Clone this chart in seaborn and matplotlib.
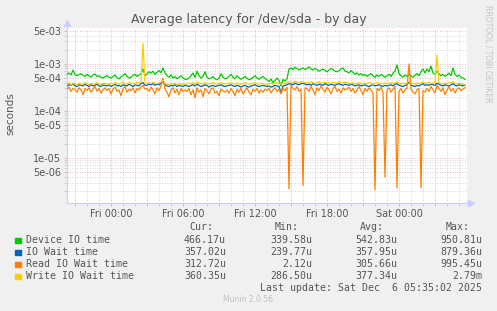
import numpy as np
import pandas as pd
import matplotlib
matplotlib.use("Agg")
import matplotlib.pyplot as plt
import matplotlib.dates as mdates
from matplotlib.patches import Rectangle
from matplotlib.ticker import FixedLocator, FixedFormatter, NullFormatter
import seaborn as sns

# ---------------- data (microseconds, one sample per 10 minutes) ----------------
start_time = "2025-12-04 20:20"
sample_step = "10min"

device_us = [
    600, 640, 580, 740, 600, 560, 590, 620, 570, 540, 600, 560, 520, 580, 610, 540, 560, 520, 500, 530,
    560, 520, 500, 540, 580, 510, 480, 530, 560, 620, 540, 500, 520, 570, 600, 540, 580, 620, 780, 560,
    620, 680, 640, 700, 600, 660, 720, 650, 820, 640, 560, 520, 580, 500, 540, 480, 520, 560, 500, 470,
    470, 500, 560, 640, 520, 700, 560, 500, 540, 680, 520, 480, 500, 540, 480, 460, 500, 620, 520, 480,
    500, 540, 600, 520, 480, 560, 510, 470, 500, 540, 490, 460, 480, 520, 560, 500, 470, 510, 540, 490,
    460, 420, 480, 400, 440, 500, 450, 340, 470, 430, 480, 780, 820, 760, 850, 800, 740, 780, 820, 760,
    800, 860, 780, 740, 800, 760, 700, 740, 780, 720, 680, 740, 800, 760, 700, 680, 720, 780, 820, 700,
    680, 640, 720, 660, 600, 640, 580, 620, 560, 600, 540, 580, 620, 560, 520, 580, 540, 600, 560, 520,
    560, 600, 540, 640, 700, 950, 620, 560, 520, 580, 540, 600, 560, 520, 580, 620, 560, 680, 780, 640,
    780, 680, 900, 640, 600, 700, 620, 560, 600, 540, 580, 640, 560, 820, 600, 540, 580, 520, 500, 466,
]
iowait_us = [
    340, 360, 350, 380, 340, 330, 360, 350, 340, 370, 350, 330, 360, 340, 350, 370, 340, 330, 360, 350,
    340, 360, 330, 350, 370, 340, 350, 330, 360, 350, 340, 370, 350, 330, 360, 350, 340, 380, 400, 350,
    350, 370, 360, 380, 350, 370, 360, 390, 420, 360, 340, 330, 350, 340, 360, 330, 350, 340, 330, 350,
    340, 330, 350, 360, 340, 370, 350, 330, 340, 360, 350, 320, 340, 350, 330, 340, 350, 360, 340, 330,
    340, 350, 360, 340, 330, 350, 340, 320, 340, 350, 330, 320, 340, 350, 360, 340, 330, 340, 350, 340,
    330, 340, 320, 330, 350, 340, 330, 240, 340, 350, 360, 380, 370, 360, 390, 370, 360, 380, 390, 370,
    360, 370, 350, 380, 360, 350, 370, 360, 350, 380, 360, 350, 370, 360, 350, 370, 380, 360, 350, 370,
    360, 350, 370, 360, 340, 350, 360, 340, 350, 360, 340, 330, 350, 360, 340, 350, 360, 340, 330, 350,
    340, 350, 360, 340, 370, 380, 350, 340, 330, 350, 360, 420, 350, 340, 330, 350, 340, 360, 380, 350,
    360, 350, 370, 360, 350, 390, 370, 350, 340, 360, 350, 340, 360, 380, 350, 340, 360, 350, 340, 357,
]
read_us = [
    290, 320, 260, 300, 280, 250, 310, 280, 220, 300, 270, 310, 250, 290, 330, 260, 300, 240, 280, 310,
    270, 300, 230, 290, 320, 260, 280, 210, 300, 330, 250, 290, 270, 310, 240, 300, 280, 320, 350, 290,
    300, 260, 320, 280, 230, 310, 270, 340, 500, 290, 250, 200, 280, 310, 240, 290, 220, 300, 260, 280,
    260, 300, 220, 280, 190, 310, 250, 280, 200, 300, 270, 230, 290, 310, 240, 260, 210, 290, 270, 250,
    280, 240, 300, 260, 210, 290, 250, 300, 230, 270, 310, 250, 220, 290, 260, 300, 240, 280, 250, 290,
    270, 300, 240, 280, 310, 260, 290, 230, 300, 270, 320, 2.2, 350, 300, 280, 330, 260, 290, 2.6, 310,
    300, 260, 330, 280, 220, 310, 270, 340, 290, 250, 320, 280, 230, 300, 330, 260, 290, 240, 310, 280,
    290, 320, 260, 300, 240, 280, 330, 270, 220, 300, 260, 310, 280, 240, 2.1, 300, 270, 320, 250, 3.9,
    280, 310, 250, 290, 330, 2.3, 260, 300, 240, 280, 310, 995, 290, 250, 230, 280, 300, 2.3, 270, 250,
    300, 260, 330, 280, 240, 350, 300, 260, 310, 220, 280, 330, 260, 300, 240, 290, 310, 270, 290, 313,
]
write_us = [
    370, 400, 360, 390, 380, 350, 390, 370, 360, 400, 380, 360, 390, 370, 380, 410, 370, 360, 390, 380,
    380, 370, 390, 360, 400, 380, 370, 390, 410, 380, 370, 400, 380, 390, 370, 410, 390, 400, 2790, 380,
    390, 400, 380, 410, 390, 380, 400, 420, 450, 390, 370, 360, 380, 370, 390, 360, 380, 370, 360, 380,
    370, 390, 380, 400, 370, 410, 390, 380, 370, 400, 390, 370, 380, 400, 380, 370, 390, 400, 380, 370,
    380, 390, 400, 380, 370, 390, 380, 370, 380, 400, 380, 370, 380, 390, 400, 380, 370, 390, 380, 370,
    370, 380, 390, 370, 380, 400, 380, 370, 390, 380, 400, 420, 410, 400, 430, 410, 400, 420, 410, 400,
    400, 390, 410, 400, 380, 400, 420, 390, 400, 410, 390, 400, 380, 410, 400, 390, 420, 400, 390, 410,
    400, 390, 380, 400, 370, 390, 400, 380, 370, 390, 380, 400, 390, 370, 380, 400, 390, 380, 370, 390,
    380, 390, 400, 380, 390, 420, 380, 370, 390, 380, 400, 430, 390, 380, 370, 390, 380, 400, 410, 390,
    390, 400, 380, 390, 410, 1550, 400, 380, 370, 390, 380, 400, 390, 420, 380, 370, 390, 380, 370, 360,
]

series_names = ["Device IO time", "IO Wait time", "Read IO Wait time", "Write IO Wait time"]
series_colors = ["#00CC00", "#0066B3", "#FF8000", "#FFCC00"]
cur_vals = ["466.17u", "357.02u", "312.72u", "360.35u"]
min_vals = ["339.58u", "239.77u", "2.12u", "286.50u"]
avg_vals = ["542.83u", "357.95u", "305.66u", "377.34u"]
max_vals = ["950.81u", "879.36u", "995.45u", "2.79m"]

ytick_values = [5e-3, 1e-3, 5e-4, 1e-4, 5e-5, 1e-5, 5e-6]
ytick_labels = ["5e-03", "1e-03", "5e-04", "1e-04", "5e-05", "1e-05", "5e-06"]
xtick_times = ["2025-12-05 00:00", "2025-12-05 06:00", "2025-12-05 12:00",
               "2025-12-05 18:00", "2025-12-06 00:00"]
xtick_labels = ["Fri 00:00", "Fri 06:00", "Fri 12:00", "Fri 18:00", "Sat 00:00"]

title = "Average latency for /dev/sda - by day"
last_update = "Last update: Sat Dec  6 05:35:02 2025"
x_start, x_end = "2025-12-04 20:20", "2025-12-06 05:40"
y_min, y_max = 1.1e-6, 5.8e-3

# ---------------- build frame ----------------
times = pd.date_range(start_time, periods=len(device_us), freq=sample_step)
df = pd.DataFrame({
    "time": times,
    series_names[0]: device_us,
    series_names[1]: iowait_us,
    series_names[2]: read_us,
    series_names[3]: write_us,
})
long = df.melt(id_vars="time", var_name="series", value_name="seconds")
long["seconds"] = long["seconds"] * 1e-6

W, H = 497, 311
TXT = "#555555"
fig = plt.figure(figsize=(W / 100, H / 100), dpi=100, facecolor="#F0F0F0")
ax = fig.add_axes([67 / W, 1 - 203 / H, 400 / W, 175 / H])
ax.set_facecolor("white")

ax.set_yscale("log")
sns.lineplot(data=long, x="time", y="seconds", hue="series", hue_order=series_names,
             palette=dict(zip(series_names, series_colors)), estimator=None,
             linewidth=0.9, legend=False, ax=ax, zorder=3)

ax.set_xlim(pd.Timestamp(x_start), pd.Timestamp(x_end))
ax.set_ylim(y_min, y_max)
ax.set_xlabel("")
ax.set_ylabel("")

# y ticks / grid
minor_y = [m * 10.0 ** e for e in range(-7, -1) for m in (2, 3, 4, 6, 7, 8, 9)]
ax.yaxis.set_major_locator(FixedLocator(ytick_values))
ax.yaxis.set_major_formatter(FixedFormatter(ytick_labels))
ax.yaxis.set_minor_locator(FixedLocator(minor_y))
ax.yaxis.set_minor_formatter(NullFormatter())

# x ticks / grid: red every 3h, gray every hour, labels every 6h
major_x = pd.date_range("2025-12-04 21:00", "2025-12-06 03:00", freq="3h")
label_map = {pd.Timestamp(t): l for t, l in zip(xtick_times, xtick_labels)}
ax.xaxis.set_major_locator(FixedLocator(mdates.date2num(major_x.to_pydatetime())))
ax.xaxis.set_major_formatter(FixedFormatter([label_map.get(t, "") for t in major_x]))
minor_x = pd.date_range("2025-12-04 21:00", "2025-12-06 05:00", freq="1h")
ax.xaxis.set_minor_locator(FixedLocator(mdates.date2num(minor_x.to_pydatetime())))
ax.xaxis.set_minor_formatter(NullFormatter())

ax.grid(which="minor", color="#c8c8c8", linestyle=(0, (1, 2)), linewidth=0.6, zorder=1)
ax.grid(which="major", color="#e8a0a0", linestyle=(0, (1, 2)), linewidth=0.6, zorder=1)
ax.set_axisbelow(True)

ax.tick_params(which="major", length=2, width=0.6, color="#e8a0a0", labelsize=7,
               labelcolor=TXT, pad=2)
ax.tick_params(which="minor", length=2, width=0.6, color="#c8c8c8")

for s in ["top", "right"]:
    ax.spines[s].set_visible(False)
for s in ["left", "bottom"]:
    ax.spines[s].set_color("#ccccff")
    ax.spines[s].set_linewidth(0.8)
ax.plot([0], [1.03], marker="^", color="#ccccff", markersize=4, transform=ax.transAxes, clip_on=False)
ax.plot([1.01], [0], marker=">", color="#ccccff", markersize=4, transform=ax.transAxes, clip_on=False)

# ---------------- texts ----------------
fig.text(0.5, 1 - 19 / H, title, ha="center", va="center", fontsize=9, color=TXT)
fig.text(10 / W, 1 - 114 / H, "seconds", rotation=90, ha="center", va="center", fontsize=7.5, color=TXT)
fig.text(488 / W, 1 - 5 / H, "RRDTOOL / TOBI OETIKER", rotation=270, ha="center", va="top",
         fontsize=5.5, color="#c4c4c4")

mono = dict(family="DejaVu Sans Mono", fontsize=7.1, color=TXT, va="center")
header_y = 227
for name, xr in zip(["Cur:", "Min:", "Avg:", "Max:"], [213, 299, 384, 470]):
    fig.text(xr / W, 1 - header_y / H, name, ha="right", **mono)

row_ys = [240, 252, 264, 276]
for i, name in enumerate(series_names):
    y = row_ys[i]
    fig.add_artist(Rectangle((15 / W, 1 - (y + 3) / H), 5.5 / W, 5.5 / H,
                             transform=fig.transFigure, color=series_colors[i]))
    fig.text(26 / W, 1 - y / H, name, ha="left", **mono)
    for val, xr in zip([cur_vals[i], min_vals[i], avg_vals[i], max_vals[i]], [226, 312, 397, 482]):
        fig.text(xr / W, 1 - y / H, val, ha="right", **mono)

fig.text(482 / W, 1 - 288 / H, last_update, ha="right", **mono)
fig.text(248 / W, 1 - 300 / H, "Munin 2.0.56", ha="center", va="center", fontsize=5.5, color="#c0c0c0")

fig.savefig("out.png", dpi=100, facecolor=fig.get_facecolor())
